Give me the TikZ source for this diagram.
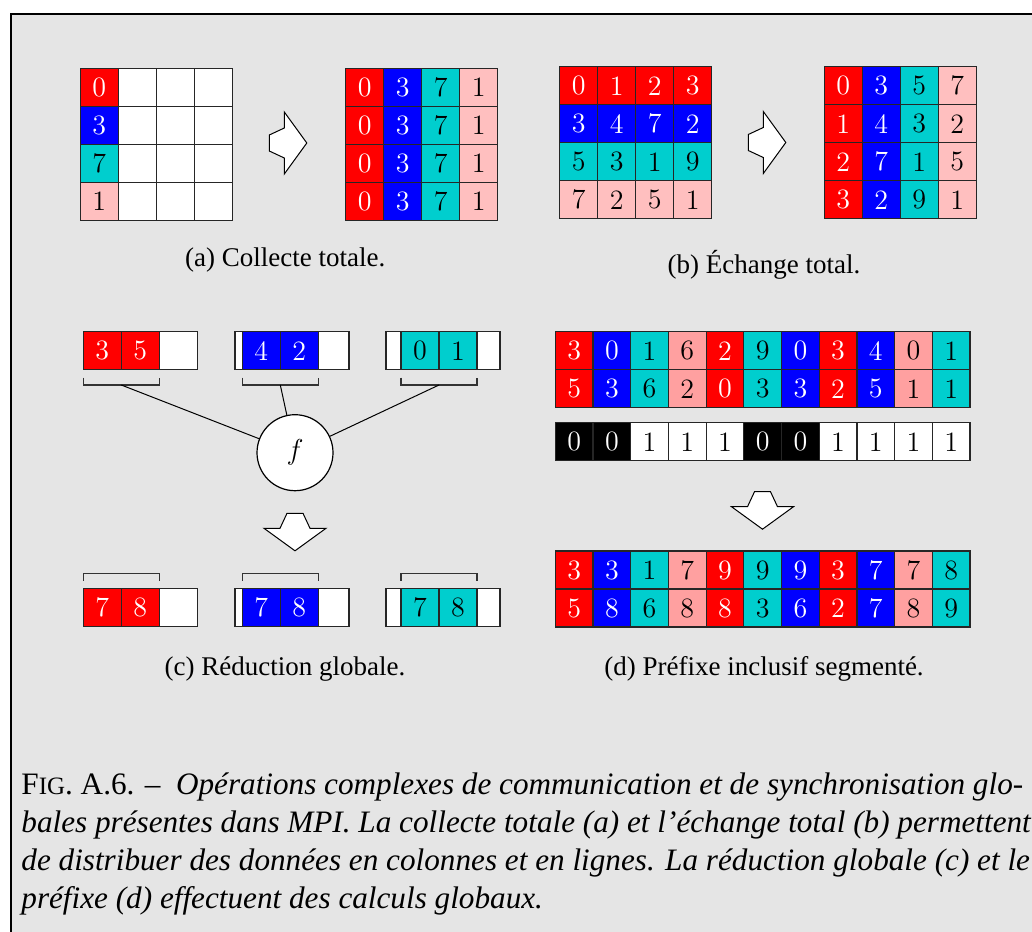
\documentclass[tikz,border=0pt]{standalone}
\usepackage{fontspec}
\newfontfamily\capfont{Liberation Serif}
\usepackage{tikz}

\definecolor{bggray}{RGB}{229,229,229}
\definecolor{cellred}{RGB}{255,0,0}
\definecolor{cellblue}{RGB}{0,0,255}
\definecolor{cellcyan}{RGB}{0,206,206}
\definecolor{cellpink}{RGB}{255,191,191}
\definecolor{cellsalmon}{RGB}{255,160,160}

\tikzset{
  cell/.style={draw=black!85, line width=0.6pt, minimum width=19pt, minimum height=19pt,
    inner sep=0pt, font=\fontsize{14}{14}\selectfont},
  cr/.style={cell, fill=cellred, text=white},
  cb/.style={cell, fill=cellblue, text=white},
  cc/.style={cell, fill=cellcyan},
  cp/.style={cell, fill=cellpink},
  cq/.style={cell, fill=cellsalmon},
  ck/.style={cell, fill=black, text=white},
  cw/.style={cell, fill=white},
  bracket/.style={draw=black!80, line width=0.6pt},
  subcap/.style={font=\capfont\fontsize{13.5}{16}\selectfont, anchor=base, inner sep=0pt},
  capline/.style={font=\capfont\fontsize{15.6}{19}\selectfont, anchor=base west, inner sep=0pt},
  pics/blockarrow/.style={code={
    \draw[fill=white, line width=0.5pt] (0,-8) -- (15,-15) -- (15,-31) -- (37.5,0)
      -- (15,31) -- (15,15) -- (0,8) -- cycle;}}
}

\begin{document}
\begin{tikzpicture}[x=0.5pt, y=-0.5pt]
\useasboundingbox (0,0) rectangle (1032,931);
\clip (0,0) rectangle (1032,931);
\fill[white] (0,0) rectangle (1032,931);

% Frame
\fill[bggray] (11.3,14.3) rectangle (1045,945);
\draw[line width=1pt] (11.3,945) -- (11.3,14.3) -- (1045,14.3);

% (a) Collecte totale
\foreach \v/\st [count=\r] in {0/cr,3/cb,7/cc,1/cp} {
  \node[\st] (a1-\r-1) at (99.3, 49.3+38*\r) {\v};
  \foreach \c in {2,3,4}
    \node[cw] (a1-\r-\c) at (61.3+38*\c, 49.3+38*\r) {};
}
\pic at (269.3,143) {blockarrow};
\foreach \v/\st [count=\c] in {0/cr,3/cb,7/cc,1/cp}
  \foreach \r in {1,...,4}
    \node[\st] (a2-\r-\c) at (326.7+38*\c, 49.3+38*\r) {\v};
\node[subcap] (capa) at (285.3,266.7) {(a) Collecte totale.};

% (b) Echange total
\foreach \vals/\st [count=\r] in {{0,1,2,3}/cr,{3,4,7,2}/cb,{5,3,1,9}/cc,{7,2,5,1}/cp}
  \foreach \v [count=\c] in \vals
    \node[\st] (b1-\r-\c) at (540.7+38*\c, 47.7+38*\r) {\v};
\pic at (748.3,142.5) {blockarrow};
\foreach \vals/\st [count=\c] in {{0,1,2,3}/cr,{3,4,7,2}/cb,{5,3,1,9}/cc,{7,2,5,1}/cp}
  \foreach \v [count=\r] in \vals
    \node[\st] (b2-\r-\c) at (805.3+38*\c, 47.7+38*\r) {\v};
\node[subcap] (capb) at (764,273.3) {(b) Échange total.};

% (c) Reduction globale
\node[circle, draw, fill=white, line width=0.6pt, minimum size=38pt, inner sep=0pt,
  font=\fontsize{14}{14}\selectfont] (f) at (295,452.7) {$f$};
\foreach \bx/\cx/\st/\va/\vb [count=\k] in {140.3/102.3/cr/3/5, 291.9/261.3/cb/4/2, 443/420/cc/0/1} {
  % input buffers
  \node[cw, minimum width=57pt] (cin\k) at (\bx,350.8) {};
  \node[\st] (cin\k-1) at (\cx,350.8) {\va};
  \node[\st] (cin\k-2) at (\cx+38,350.8) {\vb};
  \draw[bracket] (\cx-19,377.7) -- (\cx-19,385) -- (\cx+57,385) -- (\cx+57,377.7);
  \coordinate (br\k) at (\cx+19,385);
  \draw[line width=0.5pt] (br\k) -- (f);
  % output buffers
  \draw[bracket] (\cx-19,580.7) -- (\cx-19,573.3) -- (\cx+57,573.3) -- (\cx+57,580.7);
  \node[cw, minimum width=57pt] (cout\k) at (\bx,607.5) {};
  \node[\st] (cout\k-1) at (\cx,607.5) {7};
  \node[\st] (cout\k-2) at (\cx+38,607.5) {8};
}
\pic[rotate=-90] at (295,513.3) {blockarrow};
\node[subcap] (capc) at (285,675) {(c) Réduction globale.};

% (d) Prefixe inclusif segmente
\foreach \st/\va/\vb/\vc/\vd [count=\c] in {cr/3/5/3/5, cb/0/3/3/8, cc/1/6/1/6, cq/6/2/7/8,
    cr/2/0/9/8, cc/9/3/9/3, cb/0/3/9/6, cr/3/2/3/2, cb/4/5/7/7, cq/0/1/7/8, cc/1/1/8/9} {
  \node[\st, minimum width=18.85pt] (din1-\c) at (536.45+37.7*\c, 350.7) {\va};
  \node[\st, minimum width=18.85pt] (din2-\c) at (536.45+37.7*\c, 388.7) {\vb};
  \node[\st, minimum width=18.85pt] (dout1-\c) at (536.45+37.7*\c, 570) {\vc};
  \node[\st, minimum width=18.85pt] (dout2-\c) at (536.45+37.7*\c, 608) {\vd};
}
\foreach \st/\fl [count=\c] in {ck/0,ck/0,cw/1,cw/1,cw/1,ck/0,ck/0,cw/1,cw/1,cw/1,cw/1}
  \node[\st, minimum width=18.85pt] (dflag-\c) at (536.45+37.7*\c, 441.7) {\fl};
\pic[rotate=-90] at (762.5,491.7) {blockarrow};
\node[subcap] (capd) at (764,675) {(d) Préfixe inclusif segmenté.};

% Caption
\node[capline] (cap1) at (21,794) {F{\fontsize{12.5}{19}\selectfont IG}. A.6. –\hspace{0.5em}\textit{Opérations complexes de communication et de synchronisation glo-}};
\node[capline] (cap2) at (21,832) {\textit{bales présentes dans MPI. La collecte totale (a) et l’échange total (b) permettent}};
\node[capline] (cap3) at (21,870) {\textit{de distribuer des données en colonnes et en lignes. La réduction globale (c) et le}};
\node[capline] (cap4) at (21,908) {\textit{préfixe (d) effectuent des calculs globaux.}};
\end{tikzpicture}
\end{document}
